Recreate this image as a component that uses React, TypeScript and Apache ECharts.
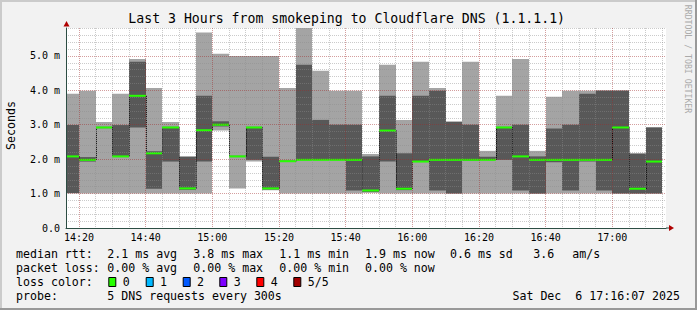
import React, { useEffect, useRef } from 'react';
import * as echarts from 'echarts';

// ---- data ----
// 5-minute interval start times
const barStart = [
  '14:15', '14:20', '14:25', '14:30', '14:35', '14:40', '14:45', '14:50', '14:55',
  '15:00', '15:05', '15:10', '15:15', '15:20', '15:25', '15:30', '15:35', '15:40',
  '15:45', '15:50', '15:55', '16:00', '16:05', '16:10', '16:15', '16:20', '16:25',
  '16:30', '16:35', '16:40', '16:45', '16:50', '16:55', '17:00', '17:05', '17:10',
];
// sorted pings per interval (ms): ping1 (min) .. ping5 (max), ping3 = median
const ping1 = [
  1.0, 1.0, 1.0, 1.0, 1.0, 1.0, 1.0, 1.0, 1.0,
  2.83, 1.15, 1.93, 1.10, 1.0, 1.0, 1.0, 1.0, 1.0,
  1.02, 1.0, 1.0, 1.0, 1.0, 1.0, 1.0, 1.0, 1.0,
  1.0, 1.0, 1.0, 1.0, 1.0, 1.0, 1.0, 1.0, 1.0,
];
const ping2 = [
  1.02, 1.93, 2.90, 2.06, 2.92, 1.14, 1.93, 1.11, 1.93,
  2.95, 2.06, 1.98, 1.12, 1.92, 1.97, 1.97, 1.97, 1.09,
  1.05, 1.93, 1.10, 1.92, 1.09, 1.0, 1.95, 1.97, 1.98,
  1.09, 1.0, 1.91, 1.09, 1.93, 1.09, 1.0, 1.0, 1.0,
];
const medianRtt = [
  2.08, 1.98, 2.92, 2.08, 3.84, 2.17, 2.92, 1.15, 2.84,
  3.00, 2.08, 2.92, 1.15, 1.94, 1.98, 1.98, 1.98, 1.98,
  1.09, 2.83, 1.14, 1.93, 1.98, 1.98, 1.98, 1.98, 2.92,
  2.08, 1.98, 1.98, 1.98, 1.98, 1.98, 2.92, 1.14, 1.93,
];
const ping4 = [
  2.99, 2.06, 2.94, 2.99, 4.83, 2.23, 2.94, 2.07, 3.84,
  3.10, 2.10, 2.94, 2.07, 1.96, 4.74, 3.14, 3.00, 3.00,
  2.08, 3.84, 2.17, 3.84, 3.99, 3.08, 3.00, 2.07, 2.94,
  3.00, 2.08, 2.89, 3.00, 3.90, 3.99, 3.99, 2.16, 2.92,
];
const ping5 = [
  3.90, 3.99, 3.08, 3.90, 4.91, 4.07, 3.08, 2.08, 5.68,
  5.06, 5.00, 5.00, 5.00, 4.07, 5.81, 4.57, 3.99, 3.99,
  2.15, 4.74, 3.14, 4.83, 4.07, 3.10, 4.83, 2.24, 3.84,
  4.91, 2.24, 3.81, 3.99, 3.99, 4.00, 4.00, 2.17, 2.93,
];
const xTickLabels = ['14:20', '14:40', '15:00', '15:20', '15:40', '16:00', '16:20', '16:40', '17:00'];
const yTickValues = [0, 1, 2, 3, 4, 5];
const lossColors = ['#26ff00', '#00b8ff', '#0059ff', '#7e00ff', '#ff0000', '#a10000'];
const lossLabels = ['0', '1', '2', '3', '4', '5/5'];

const TITLE = 'Last 3 Hours from smokeping to Cloudflare DNS (1.1.1.1)';
const legendRtt = ['2.1 ms avg', '3.8 ms max', '1.1 ms min', '1.9 ms now', '0.6 ms sd', '3.6', 'am/s'];
const legendLoss = ['0.00 % avg', '0.00 % max', '0.00 % min', '0.00 % now'];
const probeText = '5 DNS requests every 300s';
const dateText = 'Sat Dec  6 17:16:07 2025';

// ---- helpers ----
const toMin = (s: string) => {
  const [h, m] = s.split(':').map(Number);
  return h * 60 + m;
};
const STEP = 5;
const X_MAX = toMin('17:16') + 7 / 60;
const X_MIN = X_MAX - 180;
const Y_MAX = 5.81;

const MONO = "'DejaVu Sans Mono', monospace";

const majorX = xTickLabels.map(toMin);
const minorX: number[] = [];
for (let t = toMin('14:20'); t <= X_MAX; t += 5) if (!majorX.includes(t)) minorX.push(t);
const minorY: number[] = [];
for (let i = 1; i * 0.2 < Y_MAX; i++) if (i % 5 !== 0) minorY.push(Math.round(i * 2) / 10);

const barData = barStart.map((s, i) => [
  toMin(s), toMin(s) + STEP,
  ping1[i], ping2[i], medianRtt[i], ping4[i], ping5[i],
  i > 0 ? medianRtt[i - 1] : medianRtt[i],
]);

const GRID = { left: 66, top: 28, width: 600, height: 200 };

export default function App() {
  const ref = useRef<HTMLDivElement>(null);
  useEffect(() => {
    if (!ref.current) return;
    const chart = echarts.init(ref.current, null, { renderer: 'svg', width: 697, height: 310 });

    const majorLine = { color: 'rgba(160,40,40,0.45)', width: 1, type: [1, 1] };
    const minorLine = { color: 'rgba(140,140,140,0.45)', width: 1, type: [1, 1] };

    const legendY = [254.3, 268.3, 282.3, 296.3];
    const legendX = [107.3, 193.3, 279.3, 365, 450, 533.3, 572.3];
    const txt = (x: number, y: number, text: string, extra: any = {}) => ({
      type: 'text', x, y, silent: true,
      style: { text, fontFamily: MONO, fontSize: 11.6, fill: '#000', verticalAlign: 'middle', align: 'left', ...extra },
    });

    const graphics: any[] = [
      { type: 'rect', shape: { x: 0, y: 0, width: 697, height: 2 }, style: { fill: '#cbcbcb' }, silent: true },
      { type: 'rect', shape: { x: 0, y: 0, width: 2, height: 310 }, style: { fill: '#cbcbcb' }, silent: true },
      { type: 'rect', shape: { x: 0, y: 308, width: 697, height: 2 }, style: { fill: '#999999' }, silent: true },
      { type: 'rect', shape: { x: 695, y: 0, width: 2, height: 310 }, style: { fill: '#999999' }, silent: true },
      txt(346.7, 18.4, TITLE, { fontSize: 13.2, align: 'center' }),
      { type: 'text', x: 10.5, y: 125.5, rotation: Math.PI / 2, silent: true,
        style: { text: 'Seconds', fontFamily: MONO, fontSize: 11.6, fill: '#000', align: 'center', verticalAlign: 'middle' } },
      { type: 'text', x: 687.5, y: 59, rotation: -Math.PI / 2, silent: true,
        style: { text: 'RRDTOOL / TOBI OETIKER', fontFamily: MONO, fontSize: 8.2, fill: '#aaaaaa', align: 'center', verticalAlign: 'middle' } },
      // axis extension + arrows
      { type: 'line', shape: { x1: 666, y1: 228, x2: 670, y2: 228 }, style: { stroke: '#2c4d43', lineWidth: 1 }, silent: true, z: 20 },
      { type: 'polygon', shape: { points: [[669, 225], [674, 228], [669, 231]] }, style: { fill: '#b00000' }, silent: true, z: 20 },
      { type: 'polygon', shape: { points: [[63.5, 26.5], [66.5, 21], [69.5, 26.5]] }, style: { fill: '#b00000' }, silent: true, z: 20 },
      txt(16, legendY[0], 'median rtt:'),
      ...legendRtt.map((s, i) => txt(legendX[i], legendY[0], s)),
      txt(16, legendY[1], 'packet loss:'),
      ...legendLoss.map((s, i) => txt(legendX[i], legendY[1], s)),
      txt(16, legendY[2], 'loss color:'),
      txt(16, legendY[3], 'probe:'),
      txt(107.3, legendY[3], probeText),
      txt(680, legendY[3], dateText, { align: 'right' }),
    ];
    const swatchX = [108.3, 145.7, 182.7, 219.3, 256.3, 293.3];
    lossColors.forEach((c, i) => {
      graphics.push({ type: 'rect', shape: { x: swatchX[i] + 0.5, y: 277.5, width: 7, height: 9 },
        style: { fill: c, stroke: '#000', lineWidth: 1 }, silent: true });
      graphics.push(txt(swatchX[i] + 14.4, legendY[2], lossLabels[i]));
    });

    const option: any = {
      animation: false,
      backgroundColor: '#f2f2f2',
      grid: { ...GRID, show: true, backgroundColor: '#ffffff', borderWidth: 0, containLabel: false, outerBoundsMode: 'none' },
      xAxis: [
        {
          type: 'value', min: X_MIN, max: X_MAX, position: 'bottom', z: 6,
          axisLine: { show: true, lineStyle: { color: '#2c4d43', width: 1 } },
          axisTick: { show: false, customValues: majorX },
          axisLabel: {
            customValues: majorX, margin: 4, fontFamily: MONO, fontSize: 10, color: '#000',
            formatter: (v: number) => xTickLabels[majorX.indexOf(Math.round(v))] ?? '',
          },
          splitLine: { show: true, lineStyle: majorLine },
        },
        {
          type: 'value', min: X_MIN, max: X_MAX, z: 5,
          axisLine: { show: false }, axisLabel: { show: false },
          axisTick: { show: false, customValues: minorX },
          splitLine: { show: true, lineStyle: minorLine },
        },
      ],
      yAxis: [
        {
          type: 'value', min: 0, max: Y_MAX, position: 'left', z: 6,
          axisLine: { show: true, lineStyle: { color: '#2c4d43', width: 1 } },
          axisTick: { show: false, customValues: yTickValues.filter((v) => v > 0) },
          axisLabel: {
            customValues: yTickValues, margin: 6, fontFamily: MONO, fontSize: 10, color: '#000',
            formatter: (v: number) => (v === 0 ? '0.0' : v.toFixed(1) + ' m'),
          },
          splitLine: { show: true, lineStyle: majorLine },
        },
        {
          type: 'value', min: 0, max: Y_MAX, z: 5,
          axisLine: { show: false }, axisLabel: { show: false },
          axisTick: { show: false, customValues: minorY },
          splitLine: { show: true, lineStyle: minorLine },
        },
      ],
      series: [
        {
          type: 'custom',
          xAxisIndex: 0,
          yAxisIndex: 0,
          clip: true,
          z: 2,
          encode: { x: [0, 1], y: [2, 3, 4, 5, 6] },
          data: barData,
          renderItem: (params: any, api: any) => {
            const t0 = api.value(0);
            const t1 = api.value(1);
            const xL = Math.round(api.coord([t0, 0])[0]);
            const xR = Math.round(api.coord([t1, 0])[0]);
            const yOf = (v: number) => api.coord([t0, v])[1];
            const y1 = yOf(api.value(2));
            const y2 = yOf(api.value(3));
            const y3 = yOf(api.value(4));
            const y4 = yOf(api.value(5));
            const y5 = yOf(api.value(6));
            const yPrev = yOf(api.value(7));
            const w = xR - xL;
            return {
              type: 'group',
              children: [
                { type: 'rect', shape: { x: xL, y: y5, width: w, height: y1 - y5 }, style: { fill: '#a4a4a4' } },
                { type: 'rect', shape: { x: xL, y: y4, width: w, height: y2 - y4 }, style: { fill: '#585858' } },
                { type: 'line', shape: { x1: xL + 0.5, y1: yPrev, x2: xL + 0.5, y2: y3 },
                  style: { stroke: '#000', lineWidth: 1, lineDash: [1, 1] } },
                { type: 'rect', shape: { x: xL, y: y3 - 1, width: w, height: 2 }, style: { fill: '#26ff00' } },
              ],
            };
          },
        },
      ],
      graphic: graphics,
    };
    chart.setOption(option);
    return () => chart.dispose();
  }, []);

  return (
    <div
      ref={ref}
      style={{ position: 'absolute', left: 0, top: 0, width: 697, height: 310 }}
    />
  );
}
